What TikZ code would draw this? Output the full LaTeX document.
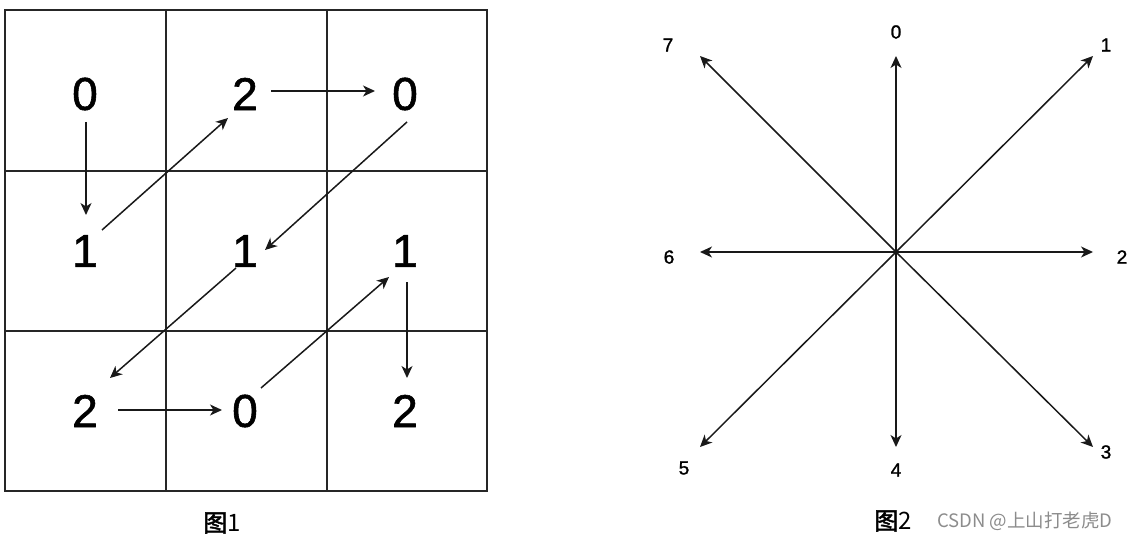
\documentclass[tikz,border=0pt]{standalone}
\usepackage{fontspec}
\setmainfont{Liberation Sans}
\newfontfamily\digfont[FakeBold=1.3]{Liberation Sans}
\newfontfamily\cjk{Noto Sans CJK SC}
\newfontfamily\cjkb[FakeBold=2]{Noto Sans CJK SC}
\usetikzlibrary{arrows.meta}
\begin{document}
\begin{tikzpicture}[x=1pt,y=-1pt,
  gridline/.style={line width=1.4pt,black!85},
  border/.style={line width=2.2pt,black!85},
  dig/.style={font=\digfont\fontsize{46}{50}\selectfont,inner sep=0pt},
  lab/.style={font=\digfont\fontsize{19}{21}\selectfont,inner sep=0pt},
  arr/.style={line width=1.5pt,black!90,-{Stealth[length=12pt,width=11pt,inset=3.5pt]}},
  captext/.style={font=\fontsize{24}{26}\selectfont,inner sep=0pt},
  wm/.style={font=\cjk\fontsize{18.5}{20}\selectfont,text=black!45,inner sep=0pt}]
\useasboundingbox (0,0) rectangle (1137,540);
% grid
\draw[gridline] (166,10) -- (166,491) (327,10) -- (327,491)
  (5,171) -- (487,171) (5,331) -- (487,331);
\draw[border] (5,10) rectangle (487,491);
% digits
\node[dig] (A) at (85,94) {0};
\node[dig] (B) at (245,94) {2};
\node[dig] (C) at (405,94) {0};
\node[dig] (D) at (85,251) {1};
\node[dig] (E) at (245,251) {1};
\node[dig] (F) at (405,251) {1};
\node[dig] (G) at (85,411) {2};
\node[dig] (H) at (245,411) {0};
\node[dig] (I) at (405,411) {2};
% arrows in grid
\draw[arr] ([shift={(1,28)}]A.center) -- ([shift={(1,-36)}]D.center);
\draw[arr] ([shift={(17,-21)}]D.center) -- ([shift={(-17,24)}]B.center);
\draw[arr] ([shift={(26,-3)}]B.center) -- ([shift={(-30,-3)}]C.center);
\draw[arr] ([shift={(2,28)}]C.center) -- ([shift={(20,-1)}]E.center);
\draw[arr] ([shift={(-9,17)}]E.center) -- ([shift={(25,-33)}]G.center);
\draw[arr] ([shift={(33,-1)}]G.center) -- ([shift={(-23,-1)}]H.center);
\draw[arr] ([shift={(16,-23)}]H.center) -- ([shift={(-16,26)}]F.center);
\draw[arr] ([shift={(2,31)}]F.center) -- ([shift={(2,-33)}]I.center);
\node[captext] (cap1) at (222,523) {{\cjkb 图}{\cjk 1}};
% star
\coordinate (O) at (896,252);
\coordinate (t0) at (896,56);
\coordinate (t1) at (1093,56);
\coordinate (t2) at (1093,252);
\coordinate (t3) at (1093,447);
\coordinate (t4) at (896,447);
\coordinate (t5) at (700,447);
\coordinate (t6) at (700,252);
\coordinate (t7) at (700,56);
\foreach \i in {0,...,7} {\draw[arr] (O) -- (t\i);}
\node[lab] (l0) at (896,32) {0};
\node[lab] (l1) at (1106,45) {1};
\node[lab] (l2) at (1122,257) {2};
\node[lab] (l3) at (1106,452) {3};
\node[lab] (l4) at (896,470) {4};
\node[lab] (l5) at (684,468) {5};
\node[lab] (l6) at (669,257) {6};
\node[lab] (l7) at (668,45) {7};
\node[captext] (cap2) at (893,521) {{\cjkb 图}{\cjk 2}};
\node[wm,anchor=west] (wmk) at (937,521) {CSDN @上山打老虎D};
\end{tikzpicture}
\end{document}
